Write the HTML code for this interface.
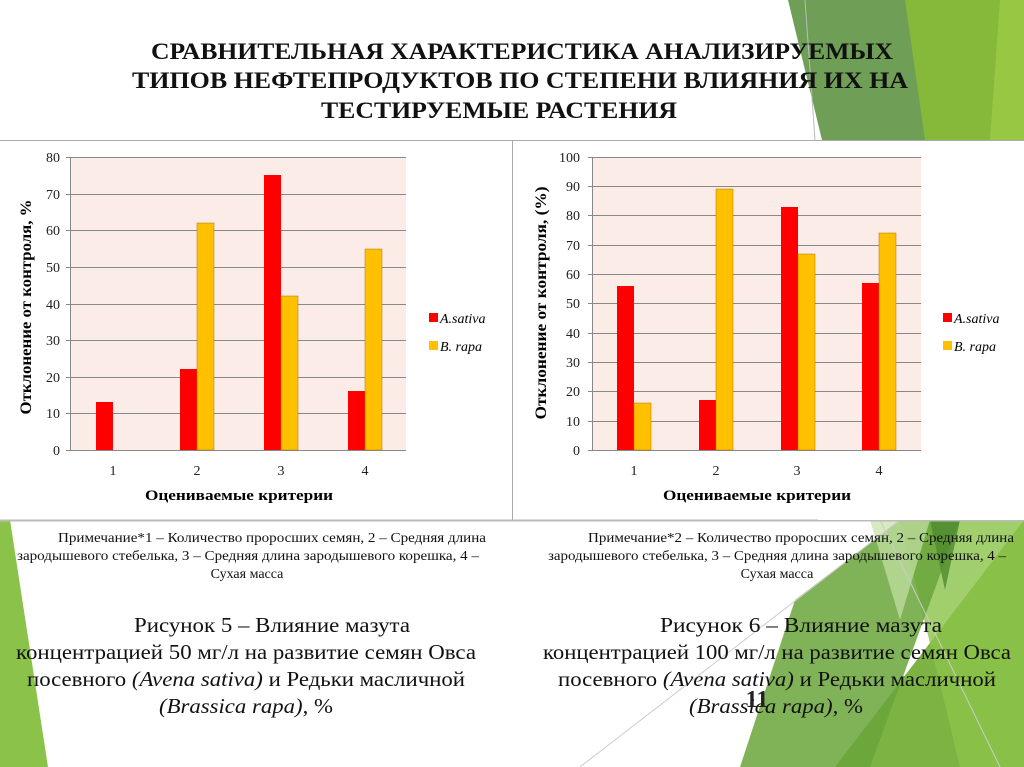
<!DOCTYPE html>
<html><head><meta charset="utf-8"><style>
html,body{margin:0;padding:0;background:#fff;}
svg{display:block;font-family:"Liberation Serif",serif;}
</style></head><body>
<svg width="1024" height="767" viewBox="0 0 1024 767" xmlns="http://www.w3.org/2000/svg">
<polygon points="788,0 1024,0 1024,140 822,140" fill="#6f9e56"/>
<polygon points="905,0 1024,0 1024,140 925,140" fill="#86b83a"/>
<polygon points="1000,0 1024,0 1024,140 990,140" fill="#97c843"/>
<line x1="805" y1="0" x2="815" y2="140" stroke="#bbb" stroke-width="1"/>
<polygon points="835,767 1024,520 1024,767" fill="#7cb342"/>
<polygon points="900,520 1024,520 1024,767 960,767" fill="#8bc34a" opacity="0.8"/>
<polygon points="795,600 900,520 960,520 870,767 740,767" fill="#6aa43a" opacity="0.85"/>
<polygon points="870,520 930,520 900,620" fill="#c5e1a5" opacity="0.7"/>
<polygon points="930,520 960,520 945,590" fill="#4e8a2e" opacity="0.8"/>
<line x1="580" y1="767" x2="900" y2="520" stroke="#ccc" stroke-width="1"/>
<line x1="880" y1="520" x2="1000" y2="767" stroke="#ccc" stroke-width="1"/>
<polygon points="0,520 10,520 48,767 0,767" fill="#8bc34a"/>
<g font-weight="bold" font-size="23" text-anchor="middle" fill="#111">
<text x="522" y="59" textLength="742" lengthAdjust="spacingAndGlyphs">СРАВНИТЕЛЬНАЯ ХАРАКТЕРИСТИКА АНАЛИЗИРУЕМЫХ</text>
<text x="520" y="88" textLength="776" lengthAdjust="spacingAndGlyphs">ТИПОВ НЕФТЕПРОДУКТОВ ПО СТЕПЕНИ ВЛИЯНИЯ ИХ НА</text>
<text x="499" y="118" textLength="356" lengthAdjust="spacingAndGlyphs">ТЕСТИРУЕМЫЕ РАСТЕНИЯ</text>
</g>
<line x1="0" y1="140.5" x2="1024" y2="140.5" stroke="#aaa"/>
<line x1="0" y1="520.5" x2="1024" y2="520.5" stroke="#bbb" stroke-width="2"/>
<line x1="512.5" y1="141" x2="512.5" y2="520" stroke="#aaa"/>
<rect x="818" y="141" width="206" height="379" fill="#fff"/>
<rect x="70" y="157" width="336" height="293" fill="#fbece8"/>
<g stroke="#888" stroke-width="1">
<line x1="66" y1="157.5" x2="406" y2="157.5"/><line x1="66" y1="194.5" x2="406" y2="194.5"/>
<line x1="66" y1="230.5" x2="406" y2="230.5"/><line x1="66" y1="267.5" x2="406" y2="267.5"/>
<line x1="66" y1="304.5" x2="406" y2="304.5"/><line x1="66" y1="340.5" x2="406" y2="340.5"/>
<line x1="66" y1="377.5" x2="406" y2="377.5"/><line x1="66" y1="413.5" x2="406" y2="413.5"/>
<line x1="66" y1="450.5" x2="406" y2="450.5"/><line x1="70.5" y1="157" x2="70.5" y2="450"/>
</g>
<g stroke="#b07000" stroke-width="0.5">
<rect x="96" y="402" width="17" height="48" fill="#ff0000" stroke="none"/>
<rect x="180" y="369" width="17" height="81" fill="#ff0000" stroke="none"/>
<rect x="197" y="223" width="17" height="227" fill="#ffc000"/>
<rect x="264" y="175" width="17" height="275" fill="#ff0000" stroke="none"/>
<rect x="281" y="296" width="17" height="154" fill="#ffc000"/>
<rect x="348" y="391" width="17" height="59" fill="#ff0000" stroke="none"/>
<rect x="365" y="249" width="17" height="201" fill="#ffc000"/>
</g>
<g font-size="14" text-anchor="end" fill="#222">
<text x="60" y="162">80</text><text x="60" y="199">70</text><text x="60" y="235">60</text>
<text x="60" y="272">50</text><text x="60" y="309">40</text><text x="60" y="345">30</text>
<text x="60" y="382">20</text><text x="60" y="418">10</text><text x="60" y="455">0</text>
</g>
<g font-size="14" text-anchor="middle" fill="#222">
<text x="113" y="475">1</text><text x="197" y="475">2</text><text x="281" y="475">3</text><text x="365" y="475">4</text>
</g>
<text x="239" y="500" font-size="15" font-weight="bold" text-anchor="middle" textLength="188" lengthAdjust="spacingAndGlyphs">Оцениваемые критерии</text>
<text transform="translate(31,307) rotate(-90)" font-size="16" font-weight="bold" text-anchor="middle" textLength="215" lengthAdjust="spacingAndGlyphs">Отклонение от контроля, %</text>
<rect x="429" y="313" width="9" height="9" fill="#ff0000"/>
<text x="440" y="323" font-size="14" font-style="italic">A.sativa</text>
<rect x="429" y="341" width="9" height="9" fill="#ffc000"/>
<text x="440" y="351" font-size="14" font-style="italic">B. rapa</text>
<rect x="592" y="157" width="329" height="293" fill="#fbece8"/>
<g stroke="#888" stroke-width="1">
<line x1="588" y1="157.5" x2="921" y2="157.5"/><line x1="588" y1="186.5" x2="921" y2="186.5"/>
<line x1="588" y1="215.5" x2="921" y2="215.5"/><line x1="588" y1="245.5" x2="921" y2="245.5"/>
<line x1="588" y1="274.5" x2="921" y2="274.5"/><line x1="588" y1="303.5" x2="921" y2="303.5"/>
<line x1="588" y1="333.5" x2="921" y2="333.5"/><line x1="588" y1="362.5" x2="921" y2="362.5"/>
<line x1="588" y1="391.5" x2="921" y2="391.5"/><line x1="588" y1="421.5" x2="921" y2="421.5"/>
<line x1="588" y1="450.5" x2="921" y2="450.5"/><line x1="592.5" y1="157" x2="592.5" y2="450"/>
</g>
<g stroke="#b07000" stroke-width="0.5">
<rect x="617" y="286" width="17" height="164" fill="#ff0000" stroke="none"/>
<rect x="634" y="403" width="17" height="47" fill="#ffc000"/>
<rect x="699" y="400" width="17" height="50" fill="#ff0000" stroke="none"/>
<rect x="716" y="189" width="17" height="261" fill="#ffc000"/>
<rect x="781" y="207" width="17" height="243" fill="#ff0000" stroke="none"/>
<rect x="798" y="254" width="17" height="196" fill="#ffc000"/>
<rect x="862" y="283" width="17" height="167" fill="#ff0000" stroke="none"/>
<rect x="879" y="233" width="17" height="217" fill="#ffc000"/>
</g>
<g font-size="14" text-anchor="end" fill="#222">
<text x="580" y="162">100</text><text x="580" y="191">90</text><text x="580" y="220">80</text>
<text x="580" y="250">70</text><text x="580" y="279">60</text><text x="580" y="308">50</text>
<text x="580" y="338">40</text><text x="580" y="367">30</text><text x="580" y="396">20</text>
<text x="580" y="426">10</text><text x="580" y="455">0</text>
</g>
<g font-size="14" text-anchor="middle" fill="#222">
<text x="634" y="475">1</text><text x="716" y="475">2</text><text x="797" y="475">3</text><text x="879" y="475">4</text>
</g>
<text x="757" y="500" font-size="15" font-weight="bold" text-anchor="middle" textLength="188" lengthAdjust="spacingAndGlyphs">Оцениваемые критерии</text>
<text transform="translate(546,303) rotate(-90)" font-size="16" font-weight="bold" text-anchor="middle" textLength="233" lengthAdjust="spacingAndGlyphs">Отклонение от контроля, (%)</text>
<rect x="943" y="313" width="9" height="9" fill="#ff0000"/>
<text x="954" y="323" font-size="14" font-style="italic">A.sativa</text>
<rect x="943" y="341" width="9" height="9" fill="#ffc000"/>
<text x="954" y="351" font-size="14" font-style="italic">B. rapa</text>
<g font-size="14" text-anchor="middle" fill="#111">
<text x="272" y="542" textLength="428" lengthAdjust="spacingAndGlyphs">Примечание*1 – Количество проросших семян, 2 – Средняя длина</text>
<text x="248" y="560" textLength="462" lengthAdjust="spacingAndGlyphs">зародышевого стебелька, 3 – Средняя длина зародышевого корешка, 4 –</text>
<text x="247" y="578">Сухая масса</text>
<text x="801" y="542" textLength="426" lengthAdjust="spacingAndGlyphs">Примечание*2 – Количество проросших семян, 2 – Средняя длина</text>
<text x="777" y="560" textLength="458" lengthAdjust="spacingAndGlyphs">зародышевого стебелька, 3 – Средняя длина зародышевого корешка, 4 –</text>
<text x="777" y="578">Сухая масса</text>
</g>
<g font-size="21" text-anchor="middle" fill="#111">
<text x="272" y="632" textLength="276" lengthAdjust="spacingAndGlyphs">Рисунок 5 – Влияние мазута</text>
<text x="246" y="659" textLength="460" lengthAdjust="spacingAndGlyphs">концентрацией 50 мг/л на развитие семян Овса</text>
<text x="246" y="686" textLength="438" lengthAdjust="spacingAndGlyphs">посевного <tspan font-style="italic">(Avena sativa)</tspan> и Редьки масличной</text>
<text x="246" y="713" textLength="174" lengthAdjust="spacingAndGlyphs"><tspan font-style="italic">(Brassica rapa)</tspan>, %</text>
<text x="801" y="632" textLength="282" lengthAdjust="spacingAndGlyphs">Рисунок 6 – Влияние  мазута</text>
<text x="777" y="659" textLength="468" lengthAdjust="spacingAndGlyphs">концентрацией 100 мг/л на развитие семян Овса</text>
<text x="777" y="686" textLength="438" lengthAdjust="spacingAndGlyphs">посевного <tspan font-style="italic">(Avena sativa)</tspan> и Редьки масличной</text>
<text x="776" y="713" textLength="174" lengthAdjust="spacingAndGlyphs"><tspan font-style="italic">(Brassica rapa)</tspan>, %</text>
</g>
<text x="757" y="707" font-size="24" font-weight="bold" text-anchor="middle" fill="#222">11</text>
</svg>
</body></html>
